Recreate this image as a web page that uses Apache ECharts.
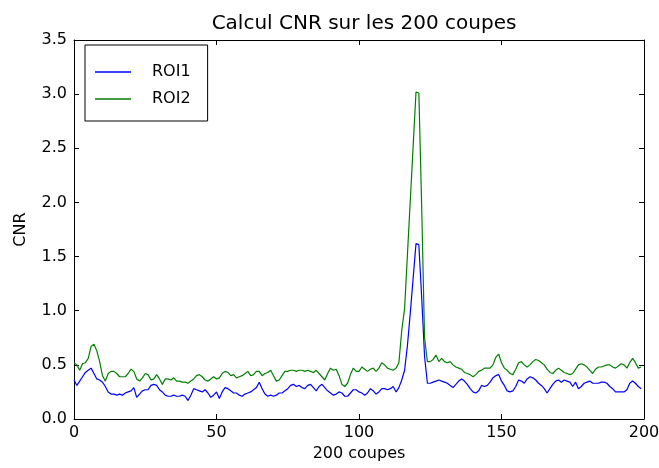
<!DOCTYPE html>
<html>
<head>
<meta charset="utf-8">
<script src="https://cdn.jsdelivr.net/npm/echarts@6/dist/echarts.min.js"></script>
<style>
  html, body { margin: 0; padding: 0; background: #fff; }
  #chart { width: 659px; height: 468px; }
</style>
</head>
<body>
<div id="chart"></div>
<script>
// CNR per slice, index 0..199
const roi1 = [
  0.36, 0.31, 0.35, 0.39, 0.43, 0.45, 0.47, 0.42, 0.37, 0.36,
  0.34, 0.30, 0.25, 0.23, 0.23, 0.22, 0.23, 0.22, 0.24, 0.25,
  0.26, 0.29, 0.20, 0.23, 0.26, 0.27, 0.27, 0.31, 0.32, 0.31,
  0.27, 0.25, 0.22, 0.21, 0.21, 0.22, 0.21, 0.21, 0.22, 0.21,
  0.17, 0.22, 0.28, 0.27, 0.26, 0.25, 0.27, 0.24, 0.20, 0.22,
  0.25, 0.19, 0.25, 0.29, 0.28, 0.26, 0.24, 0.24, 0.22, 0.21,
  0.23, 0.24, 0.25, 0.27, 0.29, 0.34, 0.28, 0.23, 0.21, 0.22,
  0.21, 0.22, 0.24, 0.24, 0.26, 0.28, 0.31, 0.32, 0.30, 0.31,
  0.29, 0.28, 0.31, 0.32, 0.29, 0.26, 0.30, 0.32, 0.29, 0.26,
  0.24, 0.22, 0.23, 0.25, 0.24, 0.21, 0.21, 0.24, 0.27, 0.27,
  0.25, 0.24, 0.22, 0.24, 0.28, 0.26, 0.23, 0.25, 0.28, 0.28,
  0.27, 0.28, 0.30, 0.25, 0.29, 0.36, 0.45, 0.68, 0.98, 1.30,
  1.62, 1.61, 1.12, 0.58, 0.33, 0.33, 0.34, 0.35, 0.36, 0.35,
  0.34, 0.33, 0.31, 0.29, 0.32, 0.35, 0.37, 0.35, 0.32, 0.28,
  0.25, 0.24, 0.26, 0.31, 0.30, 0.31, 0.34, 0.38, 0.40, 0.41,
  0.35, 0.31, 0.26, 0.25, 0.26, 0.30, 0.36, 0.35, 0.33, 0.37,
  0.39, 0.38, 0.36, 0.33, 0.31, 0.28, 0.24, 0.28, 0.32, 0.35,
  0.36, 0.34, 0.36, 0.35, 0.34, 0.30, 0.34, 0.28, 0.30, 0.33,
  0.34, 0.35, 0.33, 0.33, 0.33, 0.34, 0.34, 0.33, 0.30, 0.28,
  0.25, 0.25, 0.25, 0.25, 0.27, 0.33, 0.35, 0.33, 0.30, 0.28
];

const roi2 = [
  0.52, 0.50, 0.45, 0.51, 0.52, 0.56, 0.67, 0.69, 0.63, 0.53,
  0.40, 0.35, 0.42, 0.44, 0.44, 0.42, 0.39, 0.39, 0.39, 0.42,
  0.46, 0.44, 0.37, 0.35, 0.38, 0.42, 0.41, 0.36, 0.37, 0.41,
  0.37, 0.32, 0.37, 0.37, 0.36, 0.38, 0.35, 0.35, 0.34, 0.34,
  0.33, 0.35, 0.37, 0.40, 0.41, 0.39, 0.36, 0.35, 0.37, 0.39,
  0.37, 0.38, 0.42, 0.44, 0.43, 0.40, 0.41, 0.38, 0.39, 0.40,
  0.42, 0.44, 0.40, 0.41, 0.44, 0.44, 0.40, 0.42, 0.43, 0.45,
  0.40, 0.35, 0.36, 0.40, 0.44, 0.44, 0.45, 0.45, 0.44, 0.45,
  0.45, 0.44, 0.45, 0.44, 0.43, 0.45, 0.42, 0.39, 0.36, 0.42,
  0.47, 0.45, 0.46, 0.40, 0.32, 0.30, 0.33, 0.41, 0.47, 0.44,
  0.44, 0.48, 0.46, 0.44, 0.46, 0.47, 0.44, 0.47, 0.52, 0.50,
  0.47, 0.46, 0.45, 0.47, 0.52, 0.82, 1.02, 1.52, 2.02, 2.52,
  3.02, 3.01, 1.95, 0.75, 0.53, 0.53, 0.55, 0.59, 0.53, 0.56,
  0.53, 0.52, 0.53, 0.50, 0.48, 0.47, 0.46, 0.43, 0.42, 0.41,
  0.39, 0.41, 0.44, 0.45, 0.47, 0.47, 0.47, 0.50, 0.57, 0.60,
  0.52, 0.47, 0.45, 0.42, 0.41, 0.46, 0.52, 0.53, 0.50, 0.48,
  0.50, 0.53, 0.55, 0.54, 0.52, 0.50, 0.46, 0.43, 0.42, 0.45,
  0.47, 0.45, 0.43, 0.42, 0.41, 0.42, 0.46, 0.50, 0.51, 0.50,
  0.48, 0.45, 0.42, 0.46, 0.48, 0.48, 0.49, 0.50, 0.50, 0.48,
  0.47, 0.49, 0.51, 0.50, 0.47, 0.52, 0.56, 0.52, 0.47, 0.48
];

const seriesNames = ['ROI1', 'ROI2'];
const seriesColors = ['#0000ff', '#008000'];
const xTicks = [0, 50, 100, 150, 200];
const yTicks = [0.0, 0.5, 1.0, 1.5, 2.0, 2.5, 3.0, 3.5];

const FONT = 'DejaVu Sans';
const pairs = arr => arr.map((v, i) => [i, v]);

const chart = echarts.init(document.getElementById('chart'), null, { renderer: 'canvas' });

const tickStyle = { show: true, inside: true, length: 5, lineStyle: { color: '#000', width: 1 } };
const lineStyleAxis = { show: true, onZero: false, lineStyle: { color: '#000', width: 1 } };

chart.setOption({
  animation: false,
  backgroundColor: '#fff',
  title: {
    text: 'Calcul CNR sur les 200 coupes',
    left: 359, top: 9, textAlign: 'center',
    textStyle: { fontFamily: FONT, fontSize: 20, fontWeight: 'normal', color: '#000' }
  },
  legend: {
    orient: 'vertical',
    left: 85, top: 45,
    padding: [19, 17, 14, 10],
    itemGap: 11,
    itemWidth: 36, itemHeight: 18,
    borderColor: '#000', borderWidth: 1, borderRadius: 0,
    backgroundColor: '#fff',
    data: seriesNames.map((n, i) => ({
      name: n,
      icon: 'path://M0,9 L36,9 L36,10.3 L0,10.3 Z',
      itemStyle: { color: seriesColors[i], borderWidth: 0 }
    })),
    textStyle: { fontFamily: FONT, fontSize: 16, color: '#000', padding: [0, 0, 0, 16] }
  },
  grid: {
    left: 74, right: 15, top: 40, bottom: 49,
    containLabel: false, outerBoundsMode: 'none'
  },
  xAxis: [
    {
      type: 'value', position: 'bottom', min: 0, max: 200, interval: 50,
      name: '200 coupes', nameLocation: 'middle', nameGap: 27,
      nameTextStyle: { fontFamily: FONT, fontSize: 16, color: '#000' },
      axisLine: lineStyleAxis, axisTick: tickStyle,
      axisLabel: { fontFamily: FONT, fontSize: 16, color: '#000', margin: 6,
        formatter: v => xTicks.includes(v) ? String(v) : '' },
      splitLine: { show: false }
    },
    {
      type: 'value', position: 'top', min: 0, max: 200, interval: 50,
      axisLine: lineStyleAxis, axisTick: tickStyle,
      axisLabel: { show: false }, splitLine: { show: false }
    }
  ],
  yAxis: [
    {
      type: 'value', position: 'left', min: 0, max: 3.5, interval: 0.5,
      name: 'CNR', nameLocation: 'middle', nameGap: 45, nameRotate: 90,
      nameTextStyle: { fontFamily: FONT, fontSize: 16, color: '#000' },
      axisLine: lineStyleAxis, axisTick: tickStyle,
      axisLabel: { fontFamily: FONT, fontSize: 16, color: '#000', margin: 7,
        formatter: v => yTicks.some(t => Math.abs(t - v) < 1e-9) ? v.toFixed(1) : '' },
      splitLine: { show: false }
    },
    {
      type: 'value', position: 'right', min: 0, max: 3.5, interval: 0.5,
      axisLine: lineStyleAxis, axisTick: tickStyle,
      axisLabel: { show: false }, splitLine: { show: false }
    }
  ],
  series: [
    {
      name: seriesNames[0], type: 'line', data: pairs(roi1),
      showSymbol: false, symbol: 'none',
      lineStyle: { color: seriesColors[0], width: 1.2 },
      itemStyle: { color: seriesColors[0] }
    },
    {
      name: seriesNames[1], type: 'line', data: pairs(roi2),
      showSymbol: false, symbol: 'none',
      lineStyle: { color: seriesColors[1], width: 1.2 },
      itemStyle: { color: seriesColors[1] }
    }
  ]
});
</script>
</body>
</html>
